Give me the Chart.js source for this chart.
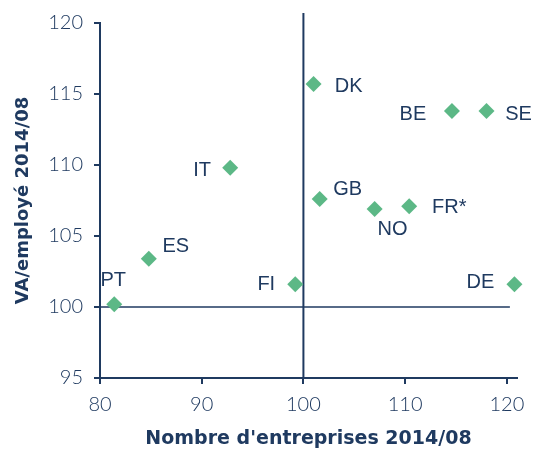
<!DOCTYPE html>
<html>
<head>
<meta charset="utf-8">
<script src="https://cdn.jsdelivr.net/npm/chart.js@4.4.0/dist/chart.umd.min.js"></script>
<style>
  html, body { margin: 0; padding: 0; background: #fff; }
  #wrap { width: 534px; height: 450px; }
</style>
</head>
<body>
<div id="wrap"><canvas id="myChart" width="534" height="450"></canvas></div>
<script>
// pays / valeurs
let countries = ["PT", "ES", "IT", "FI", "DE", "DK", "BE", "SE", "GB", "NO", "FR*"]
let entreprises = [81.4, 84.8, 92.8, 99.2, 120.75, 101.0, 114.6, 118.0, 101.6, 107.0, 110.4]
let vaEmploye = [100.2, 103.4, 109.8, 101.6, 101.6, 115.7, 113.8, 113.8, 107.6, 106.9, 107.1]
let xTicks = [80, 90, 100, 110, 120]
let yTicks = [95, 100, 105, 110, 115, 120]
let refX = 100
let refY = 100

const navy = '#1f3a60'
const green = '#5cb886'

// ou placer chaque etiquette par rapport au point (px)
const labelOffset = {
  "PT": [-1, -24], "ES": [27, -12], "IT": [-28, 3], "FI": [-29, 0],
  "DE": [-34, -2], "DK": [35, 2], "BE": [-39, 3], "SE": [32, 3],
  "GB": [28, -10], "NO": [18, 20], "FR*": [40, 1]
}

let points = entreprises.map((x, i) => ({x: x, y: vaEmploye[i]}))

const refLines = {
  id: 'refLines',
  beforeDatasetsDraw(chart) {
    const {ctx, scales: {x, y}, chartArea} = chart
    ctx.save()
    ctx.strokeStyle = navy
    // ligne horizontale a 100
    ctx.lineWidth = 1.5
    ctx.beginPath()
    ctx.moveTo(x.getPixelForValue(xTicks[0]), y.getPixelForValue(refY))
    ctx.lineTo(x.getPixelForValue(120.3), y.getPixelForValue(refY))
    ctx.stroke()
    // ligne verticale a 100
    ctx.lineWidth = 2
    ctx.beginPath()
    ctx.moveTo(x.getPixelForValue(refX), y.getPixelForValue(yTicks[0]))
    ctx.lineTo(x.getPixelForValue(refX), chartArea.top - 10)
    ctx.stroke()
    ctx.restore()
  }
}

const pointLabels = {
  id: 'pointLabels',
  afterDatasetsDraw(chart) {
    const ctx = chart.ctx
    const meta = chart.getDatasetMeta(0)
    ctx.save()
    ctx.font = '20px "Liberation Sans", Arial, sans-serif'
    ctx.fillStyle = navy
    ctx.textAlign = 'center'
    ctx.textBaseline = 'middle'
    meta.data.forEach((pt, i) => {
      let off = labelOffset[countries[i]] || [0, -20]
      ctx.fillText(countries[i], pt.x + off[0], pt.y + off[1])
    })
    ctx.restore()
  }
}

let config = {
  type: 'scatter',
  data: {
    datasets: [{
      data: points,
      pointStyle: 'rectRot',
      pointRadius: 8,
      pointHoverRadius: 8,
      backgroundColor: green,
      borderColor: green,
      borderWidth: 0,
      clip: false
    }]
  },
  options: {
    responsive: false,
    animation: false,
    events: [],
    layout: { padding: { left: 0, right: 17, top: 23, bottom: 0 } },
    plugins: { legend: { display: false }, tooltip: { enabled: false } },
    scales: {
      x: {
        type: 'linear',
        min: 80,
        max: 121,
        afterBuildTicks: (scale) => { scale.ticks = xTicks.map(v => ({value: v})) },
        afterFit: (scale) => { scale.height = 72 },
        grid: { drawOnChartArea: false, drawTicks: true, tickLength: 6, color: navy, lineWidth: 2 },
        border: { display: true, color: navy, width: 2 },
        ticks: { color: navy, padding: 9, font: { family: 'Lato', weight: 300, size: 20 }, maxRotation: 0 },
        title: {
          display: true, text: "Nombre d'entreprises 2014/08", color: navy,
          font: { family: '"DejaVu Sans"', weight: 'bold', size: 19, lineHeight: 1 },
          padding: { top: 0, bottom: 1 }
        }
      },
      y: {
        type: 'linear',
        min: 95,
        max: 120,
        afterBuildTicks: (scale) => { scale.ticks = yTicks.map(v => ({value: v})) },
        afterFit: (scale) => { scale.width = 100 },
        grid: { drawOnChartArea: false, drawTicks: true, tickLength: 6, color: navy, lineWidth: 2 },
        border: { display: true, color: navy, width: 2 },
        ticks: { color: navy, padding: 11, font: { family: 'Lato', weight: 300, size: 20 } },
        title: {
          display: true, text: 'VA/employé 2014/08', color: navy,
          font: { family: '"DejaVu Sans"', weight: 'bold', size: 18, lineHeight: 1 },
          padding: { top: 14, bottom: 0 }
        }
      }
    }
  },
  plugins: [refLines, pointLabels]
}

let myChart = new Chart(document.getElementById('myChart'), config)
</script>
</body>
</html>
